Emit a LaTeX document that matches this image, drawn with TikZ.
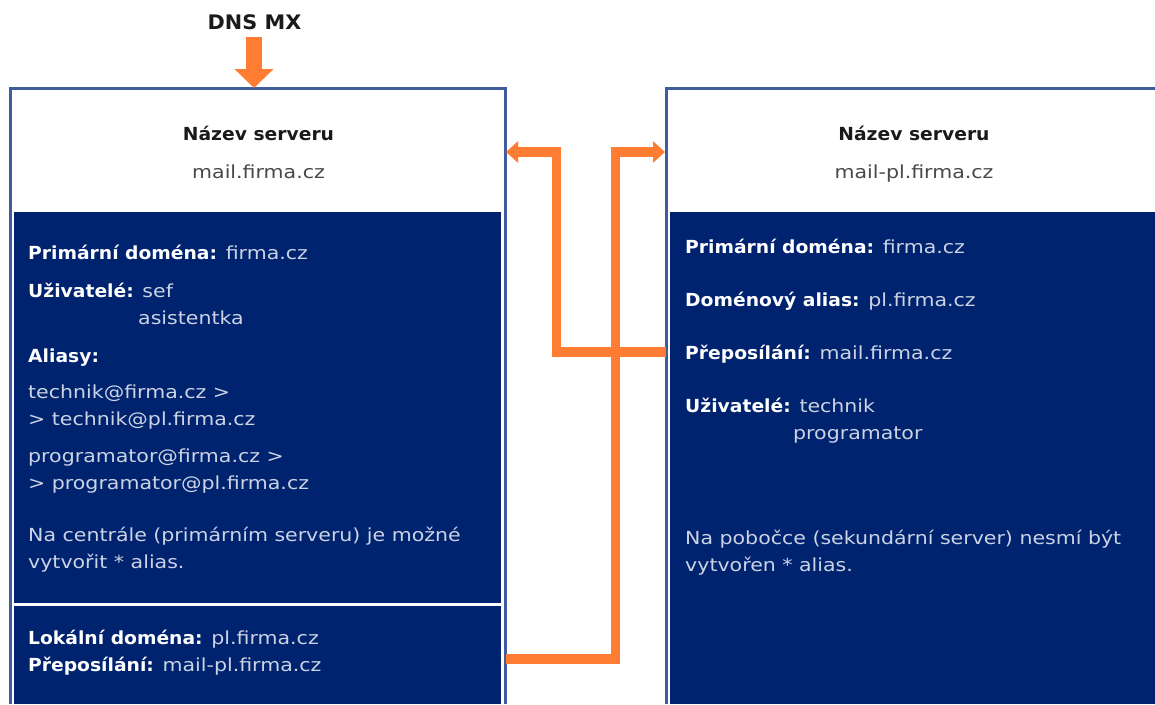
\documentclass[tikz,border=0pt]{standalone}
\usepackage{fontspec}
\setmainfont[FakeStretch=1.14,BoldFeatures={FakeStretch=1.04}]{DejaVu Sans}
\usetikzlibrary{arrows.meta}
\definecolor{navy}{HTML}{00236F}
\definecolor{frame}{HTML}{3F5C9C}
\definecolor{orng}{HTML}{FF7D32}
\definecolor{soft}{HTML}{CBD3E4}
\definecolor{ink}{HTML}{1A1A1A}
\tikzset{
  panel/.style={fill=navy,draw=none},
  outline/.style={draw=frame,line width=3pt},
  link/.style={draw=orng,line width=9.5pt,line join=miter},
  linkhead/.style={-{Triangle[width=21pt,length=12pt]}},
  hd/.style={anchor=base,inner sep=0pt,text=ink,font=\fontsize{18}{20}\selectfont\bfseries},
  hv/.style={anchor=base,inner sep=0pt,text=ink!80,font=\fontsize{18}{20}\selectfont},
  tx/.style={anchor=base west,inner sep=0pt,text=soft,font=\fontsize{18}{20}\selectfont},
}
\newcommand{\bld}[1]{\textcolor{white}{\bfseries #1}}
\begin{document}
\begin{tikzpicture}[x=1pt,y=-1pt]
\useasboundingbox (0,0) rectangle (1155,704);
\fill[white] (0,0) rectangle (1155,704);
% panels
\fill[panel] (14,212) rectangle (501,603);
\fill[panel] (14,606) rectangle (501,704);
\fill[panel] (670,212) rectangle (1155,704);
\draw[outline] (10,704) -- (10,88) -- (505,88) -- (505,704);
\draw[outline] (1156,88) -- (666,88) -- (666,704);
% anchors
\coordinate (Ltop) at (506,152);
\coordinate (Rtop) at (665,152);
\coordinate (Lbot) at (506,659);
\coordinate (Rmid) at (666,352);
\coordinate (dnsfrom) at (254,37);
\coordinate (dnsto) at (254,88);
% connectors
\draw[link,linkhead] (Rmid) -- (556.5,352) |- (Ltop);
\draw[link,linkhead] (Lbot) -- (615.5,659) |- (Rtop);
\draw[draw=orng,line width=16pt,-{Triangle[width=38pt,length=19pt]}] (dnsfrom) -- (dnsto);
% texts
\node[hd,font=\fontsize{20}{22}\selectfont\bfseries] (dns) at (254.5,29) {DNS MX};
\node[hd] (ln) at (258.5,140) {Název serveru};
\node[hv] (lv) at (258.5,178) {mail.firma.cz};
\node[hd] (rn) at (914,140) {Název serveru};
\node[hv] (rv) at (914,178) {mail-pl.firma.cz};
\node[tx] (l1) at (28,259) {\bld{Primární doména:} firma.cz};
\node[tx] (l2) at (28,297) {\bld{Uživatelé:} sef};
\node[tx] (l3) at (138,324) {asistentka};
\node[tx] (l4) at (28,362) {\bld{Aliasy:}};
\node[tx] (l5) at (28,398) {technik@firma.cz >};
\node[tx] (l6) at (28,425) {> technik@pl.firma.cz};
\node[tx] (l7) at (28,462) {programator@firma.cz >};
\node[tx] (l8) at (28,489) {> programator@pl.firma.cz};
\node[tx] (l9) at (28,541) {Na centrále (primárním serveru) je možné};
\node[tx] (l10) at (28,568) {vytvořit * alias.};
\node[tx] (l11) at (28,644) {\bld{Lokální doména:} pl.firma.cz};
\node[tx] (l12) at (28,671) {\bld{Přeposílání:} mail-pl.firma.cz};
\node[tx] (r1) at (685,253) {\bld{Primární doména:} firma.cz};
\node[tx] (r2) at (685,306) {\bld{Doménový alias:} pl.firma.cz};
\node[tx] (r3) at (685,359) {\bld{Přeposílání:} mail.firma.cz};
\node[tx] (r4) at (685,412) {\bld{Uživatelé:} technik};
\node[tx] (r5) at (793,439) {programator};
\node[tx] (r6) at (685,544) {Na pobočce (sekundární server) nesmí být};
\node[tx] (r7) at (685,571) {vytvořen * alias.};
\end{tikzpicture}
\end{document}
